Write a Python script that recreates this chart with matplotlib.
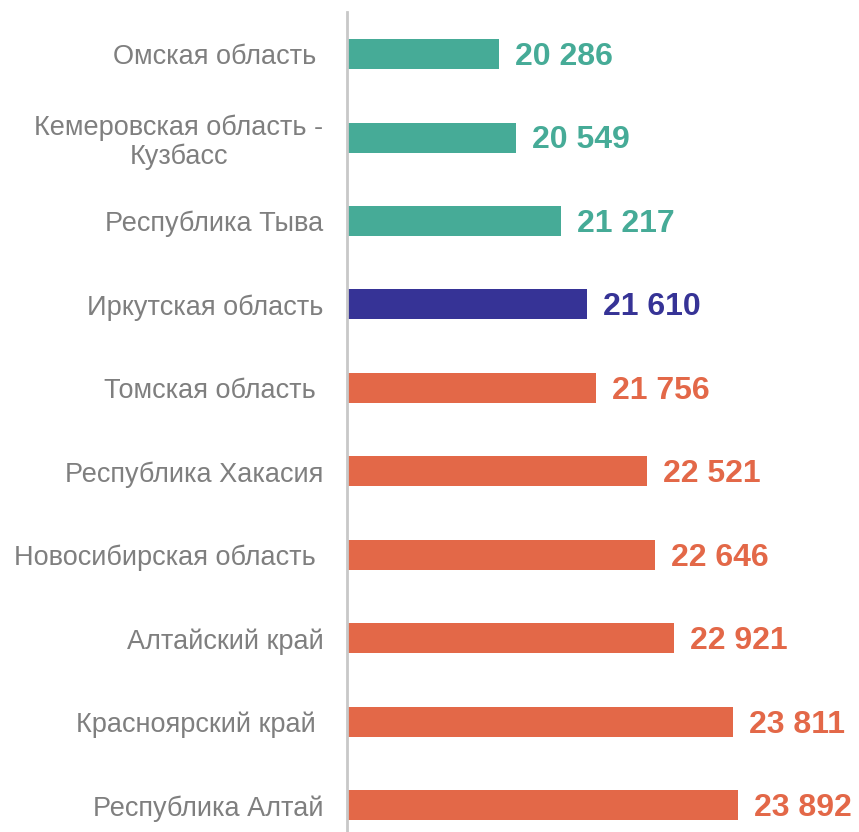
import numpy as np
import matplotlib.pyplot as plt

plt.rcParams['font.family'] = ['Liberation Sans', 'DejaVu Sans']

# data
regions = ['Омская область ', 'Кемеровская область -\nКузбасс', 'Республика Тыва',
           'Иркутская область', 'Томская область ', 'Республика Хакасия',
           'Новосибирская область ', 'Алтайский край', 'Красноярский край ',
           'Республика Алтай']
values = [20286, 20549, 21217, 21610, 21756, 22521, 22646, 22921, 23811, 23892]
groups = ['low', 'low', 'low', 'self', 'high', 'high', 'high', 'high', 'high', 'high']

palette = {'low': '#46ab97', 'self': '#363396', 'high': '#e36848'}
colors = [palette[g] for g in groups]

fig = plt.figure(figsize=(8.59, 8.32), dpi=100)
ax = fig.add_axes([347 / 859, 0, 1 - 347 / 859, 820 / 832])

y = np.arange(len(values))
xmin = 18000
ax.barh(y, np.array(values) - xmin, left=xmin, height=0.36, color=colors)

for yi, v, c in zip(y, values, colors):
    ax.text(v + 240, yi + 0.035, f'{v:,}'.replace(',', ' '), va='center', ha='left',
            fontsize=23, fontweight='bold', color=c)

ax.set_xlim(xmin, 25711)
ax.set_ylim(9.32, -0.504)
ax.set_yticks(y)
ax.set_yticklabels(regions, fontsize=19.5, color='#7f7f7f', multialignment='center',
                   linespacing=1.17)
ax.tick_params(axis='y', length=0, pad=17)
ax.set_xticks([])

for s in ['top', 'right', 'bottom']:
    ax.spines[s].set_visible(False)
ax.spines['left'].set_color('#c8c8c8')
ax.spines['left'].set_linewidth(2)

plt.savefig('out.png', dpi=100)
